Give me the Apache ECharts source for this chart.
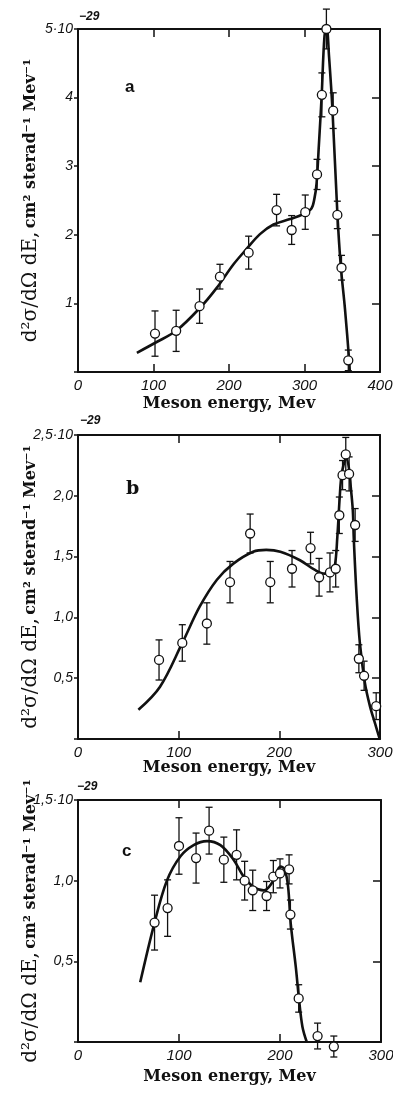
<!DOCTYPE html>
<html>
<head>
<meta charset="utf-8">
<script src="https://cdn.jsdelivr.net/npm/echarts@6/dist/echarts.min.js"></script>
<style>
  html, body { margin: 0; background: #fff; }
  #main { width: 393px; height: 1093px; }
</style>
</head>
<body>
<div id="main"></div>
<script>
// panel a
const aEnergy = [102, 130, 161, 188, 226, 263, 283, 301, 316.6, 323, 329, 338, 343.5, 349, 358];
const aValue = [0.56, 0.60, 0.96, 1.39, 1.74, 2.36, 2.07, 2.33, 2.88, 4.04, 5.0, 3.81, 2.29, 1.52, 0.17];
const aErr = [0.33, 0.30, 0.25, 0.18, 0.24, 0.23, 0.21, 0.25, 0.22, 0.32, 0.29, 0.26, 0.20, 0.18, 0.15];
const aCurveE = [78, 103, 130, 162, 184, 206, 223, 241, 259, 281, 298, 309, 313, 316, 319, 322.7, 326.5, 329.4, 332.5, 337, 343.5, 348, 353.6, 359, 360];
const aCurveV = [0.28, 0.43, 0.60, 0.94, 1.23, 1.57, 1.79, 2.01, 2.15, 2.23, 2.30, 2.38, 2.52, 2.75, 3.3, 4.02, 4.9, 5.0, 4.6, 3.83, 2.32, 1.55, 0.92, 0.19, 0];

// panel b
const bEnergy = [80.5, 103.6, 128, 151, 171, 191, 212.6, 231, 239.5, 250.3, 256, 259.6, 262.8, 266, 269.3, 275.3, 279, 284.2, 296.2];
const bValue = [0.65, 0.79, 0.95, 1.29, 1.69, 1.29, 1.40, 1.57, 1.33, 1.37, 1.40, 1.84, 2.17, 2.34, 2.18, 1.76, 0.66, 0.52, 0.27];
const bErr = [0.165, 0.15, 0.17, 0.17, 0.16, 0.17, 0.15, 0.13, 0.155, 0.16, 0.15, 0.15, 0.12, 0.14, 0.14, 0.135, 0.115, 0.12, 0.11];
const bCurveE = [60, 81.5, 103.6, 121, 138, 154, 174, 187, 201, 220.5, 235.4, 245, 251, 255, 257.6, 260, 262, 266.5, 269.5, 271, 273, 274, 276.8, 280, 285, 290, 295, 299, 300];
const bCurveV = [0.24, 0.43, 0.79, 1.09, 1.31, 1.44, 1.54, 1.555, 1.54, 1.47, 1.39, 1.36, 1.37, 1.42, 1.66, 1.99, 2.18, 2.31, 2.21, 2.07, 1.88, 1.64, 1.17, 0.79, 0.46, 0.27, 0.13, 0.02, 0];

// panel c
const cEnergy = [75.8, 88.7, 100, 116.9, 129.8, 144.4, 157, 165, 173, 186.7, 193.4, 200, 209, 210.3, 218.5, 237.2, 253.3];
const cValue = [0.74, 0.83, 1.215, 1.14, 1.31, 1.13, 1.16, 1.0, 0.94, 0.905, 1.025, 1.045, 1.07, 0.79, 0.27, 0.037, -0.028];
const cErr = [0.17, 0.175, 0.175, 0.155, 0.145, 0.14, 0.155, 0.12, 0.125, 0.09, 0.1, 0.09, 0.09, 0.09, 0.085, 0.08, 0.065];
const cCurveE = [61.6, 75.8, 88, 101.3, 114.5, 127.8, 141, 154, 164, 174, 184, 192.4, 200.6, 204.6, 208, 210.6, 215.6, 218.9, 222.2, 226.5];
const cCurveV = [0.37, 0.74, 1.0, 1.15, 1.22, 1.245, 1.22, 1.13, 1.025, 0.96, 0.94, 0.99, 1.087, 1.07, 0.963, 0.736, 0.467, 0.26, 0.095, 0];

// tick labels
const aTicksY = ['', '1', '2', '3', '4', '5·10'];
const bTicksY = ['', '0,5', '1,0', '1,5', '2,0', '2,5·10'];
const cTicksY = ['', '0,5', '1,0', '1,5·10'];

const ink = '#111';
const narrow = '"Liberation Sans Narrow", "Liberation Sans", sans-serif';
const serif = '"DejaVu Serif", "Liberation Serif", serif';

const grids = [
  {left: 78, top: 29, width: 302, height: 343, outerBoundsMode: 'none'},
  {left: 78, top: 435, width: 302, height: 304, outerBoundsMode: 'none'},
  {left: 78, top: 800, width: 303, height: 242, outerBoundsMode: 'none'}
];

const xAxes = [];
const yAxes = [];

function addAxes(gridIndex, xMax, yMax, yStep, yLabels, titleGap) {
  const line = {onZero: false, lineStyle: {color: ink, width: 2}};
  const inTick = {inside: true, length: 8, lineStyle: {color: ink, width: 1.5}};
  xAxes.push({
    type: 'value', gridIndex, min: 0, max: xMax, interval: 100, position: 'bottom',
    axisLine: line, axisTick: inTick,
    axisLabel: {color: ink, fontStyle: 'italic', fontFamily: narrow, fontSize: 15, margin: 6},
    splitLine: {show: false},
    name: 'Meson energy, Mev', nameLocation: 'middle', nameGap: titleGap, nameMoveOverlap: false,
    nameTextStyle: {color: ink, fontFamily: serif, fontWeight: 'bold', fontSize: 16}
  });
  xAxes.push({
    type: 'value', gridIndex, min: 0, max: xMax, interval: 100, position: 'top',
    axisLine: line, axisTick: inTick,
    axisLabel: {show: false},
    splitLine: {show: false}
  });
  yAxes.push({
    type: 'value', gridIndex, min: 0, max: yMax, interval: yStep, position: 'left',
    axisLine: line,
    axisTick: {inside: false, length: 4, lineStyle: {color: ink, width: 1.5}},
    axisLabel: {
      color: ink, fontStyle: 'italic', fontFamily: narrow, fontSize: 14, margin: 5,
      formatter: v => yLabels[Math.round(v / yStep)]
    },
    splitLine: {show: false},
    name: '{d|d²σ/dΩ dE,} {u|cm² sterad⁻¹ Mev⁻¹}',
    nameLocation: 'middle', nameRotate: 90, nameGap: 37, nameMoveOverlap: false,
    nameTextStyle: {
      color: ink,
      rich: {
        d: {fontFamily: serif, fontSize: 20, color: ink},
        u: {fontFamily: serif, fontSize: 16, fontWeight: 'bold', color: ink}
      }
    }
  });
  yAxes.push({
    type: 'value', gridIndex, min: 0, max: yMax, interval: yStep, position: 'right',
    axisLine: line, axisTick: inTick,
    axisLabel: {show: false},
    splitLine: {show: false}
  });
}

addAxes(0, 400, 5, 1, aTicksY, 24);
addAxes(1, 300, 2.5, 0.5, bTicksY, 21);
addAxes(2, 300, 1.5, 0.5, cTicksY, 27);

function renderErrorBar(params, api) {
  const x = api.value(0);
  const top = api.coord([x, api.value(2)]);
  const bot = api.coord([x, api.value(1)]);
  const w = 3.5;
  const style = {stroke: ink, lineWidth: 1.3};
  return {
    type: 'group',
    children: [
      {type: 'line', shape: {x1: top[0], y1: top[1], x2: bot[0], y2: bot[1]}, style},
      {type: 'line', shape: {x1: top[0] - w, y1: top[1], x2: top[0] + w, y2: top[1]}, style},
      {type: 'line', shape: {x1: bot[0] - w, y1: bot[1], x2: bot[0] + w, y2: bot[1]}, style}
    ]
  };
}

const series = [];

function addPanel(i, energy, value, err, curveE, curveV) {
  const axes = {xAxisIndex: 2 * i, yAxisIndex: 2 * i};
  series.push({
    type: 'line', ...axes, smooth: 0.35, showSymbol: false,
    lineStyle: {color: ink, width: 2.6},
    data: curveE.map((e, k) => [e, curveV[k]]),
    z: 2
  });
  series.push({
    type: 'custom', ...axes, renderItem: renderErrorBar, clip: false,
    encode: {x: 0, y: [1, 2]},
    data: energy.map((e, k) => [e, value[k] - err[k], value[k] + err[k]]),
    z: 3
  });
  series.push({
    type: 'scatter', ...axes, symbol: 'circle', symbolSize: 9, clip: false,
    itemStyle: {color: '#fff', borderColor: ink, borderWidth: 1.3, opacity: 1},
    data: energy.map((e, k) => [e, value[k]]),
    z: 4
  });
}

addPanel(0, aEnergy, aValue, aErr, aCurveE, aCurveV);
addPanel(1, bEnergy, bValue, bErr, bCurveE, bCurveV);
addPanel(2, cEnergy, cValue, cErr, cCurveE, cCurveV);

const expStyle = {fill: ink, font: 'italic bold 12px ' + narrow};
const graphic = [
  {type: 'text', left: 79, top: 11, style: {text: '−29', ...expStyle}},
  {type: 'text', left: 80, top: 415, style: {text: '−29', ...expStyle}},
  {type: 'text', left: 77, top: 781, style: {text: '−29', ...expStyle}},
  {type: 'text', left: 125, top: 79, style: {text: 'a', fill: ink, font: 'bold 17px "Liberation Sans", sans-serif'}},
  {type: 'text', left: 126, top: 480, style: {text: 'b', fill: ink, font: 'bold 19px ' + serif}},
  {type: 'text', left: 122, top: 843, style: {text: 'c', fill: ink, font: 'bold 17px "Liberation Sans", sans-serif'}}
];

const chart = echarts.init(document.getElementById('main'));
chart.setOption({
  animation: false,
  backgroundColor: '#fff',
  grid: grids,
  xAxis: xAxes,
  yAxis: yAxes,
  series,
  graphic
});
</script>
</body>
</html>
